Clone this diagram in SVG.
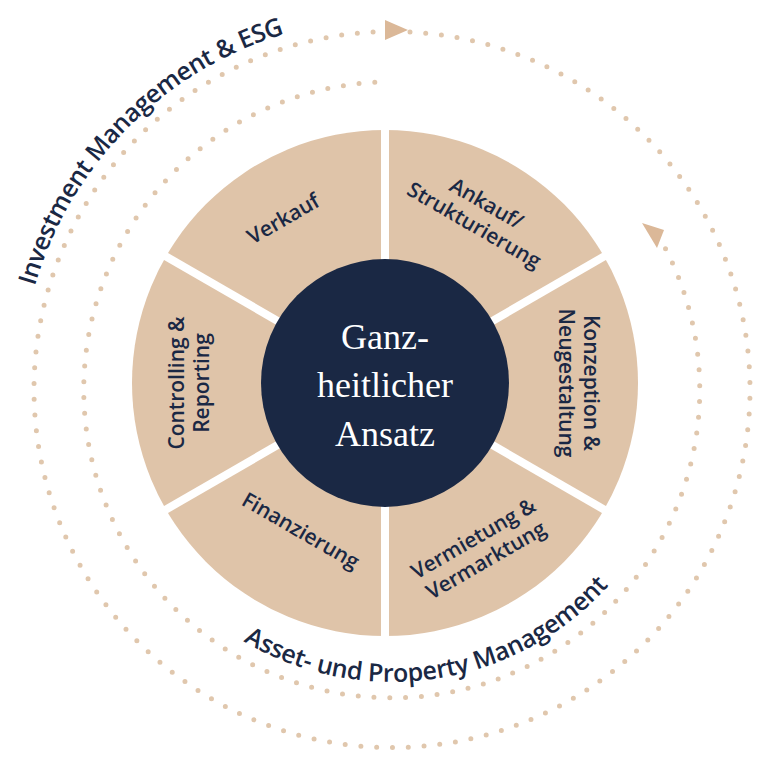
<svg xmlns="http://www.w3.org/2000/svg" width="768" height="768" viewBox="0 0 768 768">
<style>
.dots{fill:none;stroke:#e0c7ad;stroke-width:5;stroke-linecap:round;stroke-dasharray:0 15.8}
.seg{font-family:"Open Sans","Noto Sans",sans-serif;font-weight:600;font-size:21px;fill:#1a2844;text-anchor:middle}
.ring{font-family:"Open Sans","Noto Sans",sans-serif;font-weight:600;font-size:25px;fill:#1a2844}
.ctr{font-family:"Liberation Serif",serif;font-size:36px;fill:#fff;text-anchor:middle}
.div{stroke:#fff;stroke-width:8}
</style>
<defs>
<path id="outerTxt" d="M 392 762 A 372 372 0 0 1 392 18"/>
<path id="innerTxt" d="M 100 390 A 292 292 0 0 0 684 390"/>
</defs>
<rect width="768" height="768" fill="#fff"/>
<g id="connectors">
<path class="dots" d="M 410 32 A 358 358 0 1 1 374 32"/>
<path class="dots" d="M 658 235 A 308 308 0 1 1 382 82"/>
<polygon points="385,20 408,30 385,40" fill="#dbb898"/>
<polygon points="642,223 664,230 657,248" fill="#dbb898"/>
</g>
<g id="wheel">
<circle cx="385" cy="383" r="253" fill="#dfc4a9"/>
<line class="div" x1="385" y1="383" x2="385" y2="125"/>
<line class="div" x1="385" y1="383" x2="385" y2="640"/>
<line class="div" x1="385" y1="383" x2="610" y2="253"/>
<line class="div" x1="385" y1="383" x2="160" y2="253"/>
<line class="div" x1="385" y1="383" x2="610" y2="513"/>
<line class="div" x1="385" y1="383" x2="160" y2="513"/>
</g>
<g id="center">
<circle cx="385" cy="383" r="124" fill="#1a2844"/>
<text class="ctr" x="385" y="349">Ganz-</text>
<text class="ctr" x="385" y="397">heitlicher</text>
<text class="ctr" x="385" y="446">Ansatz</text>
</g>
<g id="verkauf"><text class="seg" transform="translate(287,225) rotate(-30)">Verkauf</text></g>
<g id="ankauf"><text class="seg" transform="translate(480,215) rotate(30)"><tspan x="0" y="-6">Ankauf/</tspan><tspan x="0" y="19">Strukturierung</tspan></text></g>
<g id="konzeption"><text class="seg" transform="translate(578,383) rotate(90)"><tspan x="0" y="-6">Konzeption &amp;</tspan><tspan x="0" y="19">Neugestaltung</tspan></text></g>
<g id="vermietung"><text class="seg" transform="translate(480,550) rotate(-30)"><tspan x="0" y="-6">Vermietung &amp;</tspan><tspan x="0" y="19">Vermarktung</tspan></text></g>
<g id="finanzierung"><text class="seg" transform="translate(297,537) rotate(30)">Finanzierung</text></g>
<g id="controlling"><text class="seg" transform="translate(190,383) rotate(-90)"><tspan x="0" y="-6">Controlling &amp;</tspan><tspan x="0" y="19">Reporting</tspan></text></g>
<g id="investment"><text class="ring"><textPath href="#outerTxt" startOffset="59%" textLength="370" lengthAdjust="spacing">Investment Management &amp; ESG</textPath></text></g>
<g id="asset"><text class="ring" font-size="23"><textPath href="#innerTxt" startOffset="33%" textLength="400" lengthAdjust="spacing">Asset- und Property Management</textPath></text></g>
</svg>
